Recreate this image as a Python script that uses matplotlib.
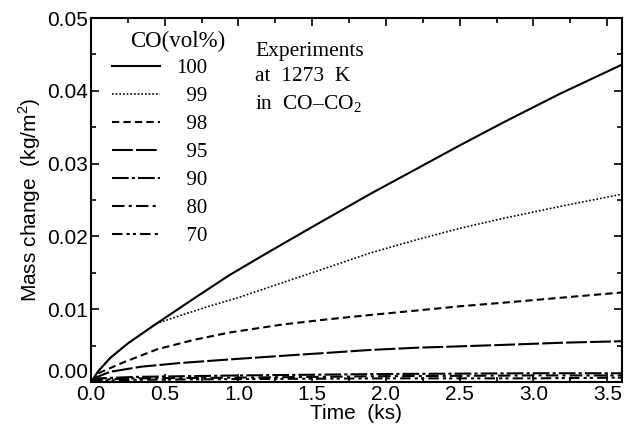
import numpy as np
import matplotlib.pyplot as plt
from matplotlib.ticker import MultipleLocator

# values
t100 = [0, 0.05, 0.13, 0.25, 0.45, 0.7, 0.94, 1.2, 1.5, 1.89, 2.2, 2.5, 2.8, 3.18, 3.6]
m100 = [0, 0.0015, 0.0033, 0.0053, 0.0081, 0.0115, 0.0147, 0.0178, 0.0213, 0.0258,
        0.0292, 0.0325, 0.0357, 0.0396, 0.0436]
t99 = [0, 0.05, 0.13, 0.25, 0.44, 0.6, 0.8, 1.0, 1.35, 1.6, 1.89, 2.2, 2.5, 2.8, 3.2, 3.6]
m99 = [0, 0.0015, 0.0033, 0.0053, 0.0080, 0.0091, 0.0104, 0.0116, 0.0140, 0.0157,
       0.0177, 0.0195, 0.0211, 0.0225, 0.0242, 0.0258]
t98 = [0, 0.05, 0.22, 0.45, 0.7, 0.94, 1.3, 1.6, 1.89, 2.2, 2.5, 2.8, 3.2, 3.6]
m98 = [0, 0.0012, 0.0027, 0.0045, 0.0058, 0.0068, 0.0079, 0.0086, 0.0092, 0.0098,
       0.0104, 0.0109, 0.0116, 0.0123]
t95 = [0, 0.03, 0.13, 0.34, 0.6, 0.94, 1.3, 1.6, 1.89, 2.2, 2.5, 2.8, 3.2, 3.6]
m95 = [0, 0.0006, 0.0014, 0.0021, 0.0026, 0.0031, 0.0036, 0.0040, 0.0044, 0.0047,
       0.0049, 0.0051, 0.0054, 0.0056]
t90 = [0, 0.05, 0.3, 1.0, 2.0, 3.0, 3.6]
m90 = [0, 0.0005, 0.0007, 0.0009, 0.0011, 0.0012, 0.0012]
t80 = [0, 0.05, 0.3, 1.0, 2.0, 3.0, 3.6]
m80 = [0, 0.0003, 0.0005, 0.0006, 0.0008, 0.0009, 0.0009]
t70 = [0, 0.05, 0.3, 1.0, 2.0, 3.0, 3.6]
m70 = [0, 0.0002, 0.0003, 0.0004, 0.0005, 0.0005, 0.0006]

labels = ["100", "  99", "  98", "  95", "  90", "  80", "  70"]

plt.rcParams["mathtext.fontset"] = "custom"
plt.rcParams["mathtext.rm"] = "Liberation Sans"

fig = plt.figure(figsize=(6.24, 4.33), dpi=100)
ax = fig.add_axes([0.1458, 0.1178, 0.8510, 0.8406])

ax.plot(t100, m100, color="k", lw=1.5, ls="-", label=labels[0])
ax.plot(t99, m99, color="k", lw=1.2, ls=(0, (1, 1.2)), label=labels[1])
ax.plot(t98, m98, color="k", lw=1.5, ls=(0, (3.5, 2)), label=labels[2])
ax.plot(t95, m95, color="k", lw=1.5, ls=(0, (10, 1.5)), label=labels[3])
ax.plot(t90, m90, color="k", lw=1.5, ls=(0, (8, 1.5, 1.5, 1.5)), label=labels[4])
ax.plot(t80, m80, color="k", lw=1.5, ls=(0, (6, 2, 1.5, 2)), label=labels[5])
ax.plot(t70, m70, color="k", lw=1.5, ls=(0, (5, 2, 1.5, 1.5, 1.5, 2)), label=labels[6])

ax.set_xlim(0, 3.6)
ax.set_ylim(0, 0.05)
ax.xaxis.set_major_locator(MultipleLocator(0.5))
ax.xaxis.set_minor_locator(MultipleLocator(0.25))
ax.yaxis.set_major_locator(MultipleLocator(0.01))
ax.yaxis.set_minor_locator(MultipleLocator(0.005))
ax.xaxis.set_major_formatter(plt.FormatStrFormatter("%.1f"))
ax.yaxis.set_major_formatter(plt.FormatStrFormatter("%.2f"))
ax.tick_params(which="both", direction="in", top=True, right=True, width=1.2)
ax.tick_params(which="major", length=6, labelsize=15, pad=2)
ax.tick_params(which="minor", length=3.5)
for lab in ax.get_xticklabels() + ax.get_yticklabels():
    lab.set_family("Liberation Sans")
for s in ax.spines.values():
    s.set_linewidth(1.5)

ax.set_xlabel("Time  (ks)", family="Liberation Sans", fontsize=15, labelpad=0)
ax.set_ylabel("Mass change  (kg/m$^2$)", family="Liberation Sans", fontsize=15, labelpad=3)

ax.text(0.073, 0.964, "CO(vol%)", transform=ax.transAxes, family="Liberation Serif",
        fontsize=16.5, va="top", ha="left")

leg = ax.legend(loc="upper left", bbox_to_anchor=(0.039, 0.888), borderaxespad=0,
                borderpad=0, frameon=False, handlelength=2.3, handletextpad=0.8,
                labelspacing=0.4, prop={"family": "Liberation Serif", "size": 15})

ax.text(0.309, 0.935, "Experiments\nat  1273  K\nin  CO\u2013CO$_\\mathregular{2}$",
        transform=ax.transAxes, family="Liberation Serif", fontsize=15.5,
        va="top", ha="left", linespacing=1.45)

# 0.00 sits a bit above the axis in the reference
fig.canvas.draw()
for tick in ax.yaxis.get_major_ticks():
    if abs(tick.get_loc()) < 1e-9:
        tick.label1.set_verticalalignment("bottom")

fig.savefig("out.png", dpi=100)
